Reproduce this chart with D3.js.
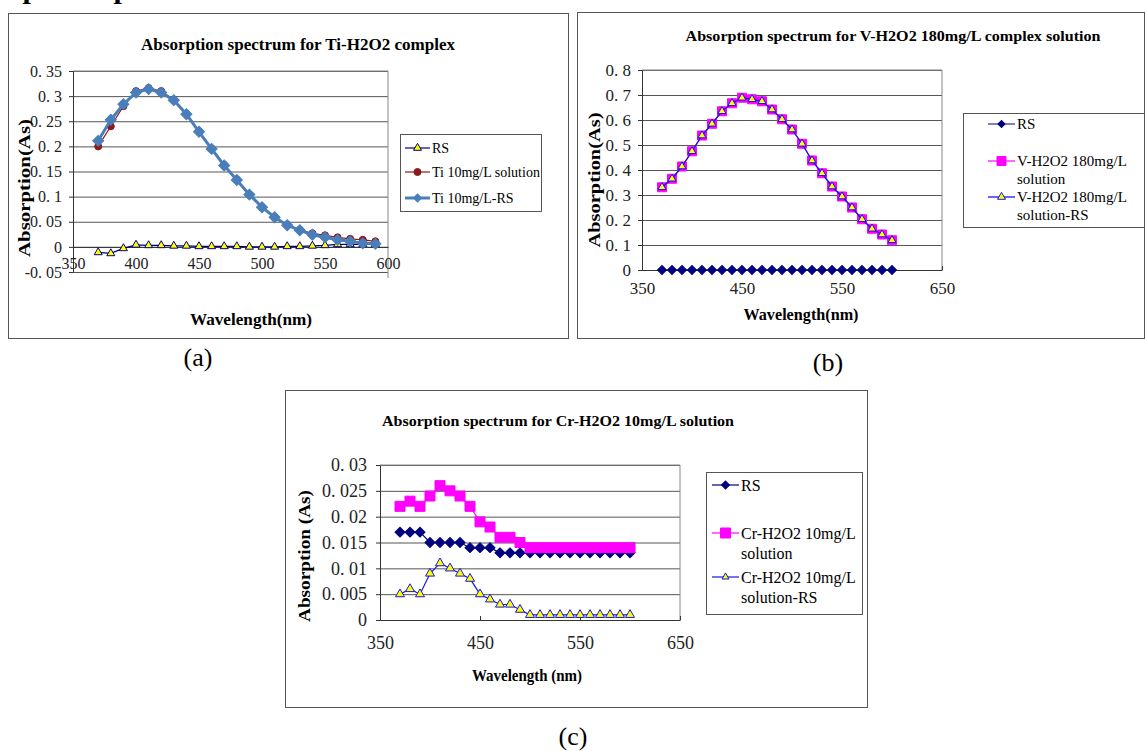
<!DOCTYPE html>
<meta charset="utf-8">
<style>
body { margin: 0; background: #fff; }
svg { display: block; font-family: "Liberation Serif", "Times New Roman", serif; }
.frame { fill: none; stroke: #555; stroke-width: 1px; }
.legend-box { fill: #fff; stroke: #555; stroke-width: 1px; }
.grid line { stroke: #555; stroke-width: 1px; }
.grid path { display: none; }
.axis path, .axis line { stroke: #333; }
.axis text { fill: #222; font-family: "Liberation Serif", "Times New Roman", serif; }
.ttl { font-weight: bold; fill: #000; }
</style>
<svg width="1145" height="751"></svg>
<script src="https://d3js.org/d3.v7.min.js"></script>
<script>

// wavelengths (nm)
var waveA = [370, 380, 390, 400, 410, 420, 430, 440, 450, 460, 470, 480, 490, 500, 510, 520, 530, 540, 550, 560, 570, 580, 590];
var waveBC = [370, 380, 390, 400, 410, 420, 430, 440, 450, 460, 470, 480, 490, 500, 510, 520, 530, 540, 550, 560, 570, 580, 590, 600];

// (a) Ti-H2O2
var rsA = [-0.011, -0.013, -0.003, 0.004, 0.003, 0.003, 0.002, 0.002, 0.001, 0.001, 0.001, 0.001, 0, 0, 0, 0.001, 0.001, 0.002, 0.003, 0.005, 0.005, 0.005, 0.005];
var tiSol = [0.200, 0.240, 0.280, 0.310, 0.316, 0.310, 0.293, 0.265, 0.230, 0.196, 0.163, 0.134, 0.104, 0.079, 0.059, 0.044, 0.034, 0.027, 0.023, 0.019, 0.016, 0.014, 0.011];
var tiSolRS = [0.211, 0.253, 0.284, 0.307, 0.314, 0.307, 0.292, 0.264, 0.229, 0.195, 0.162, 0.133, 0.104, 0.079, 0.059, 0.043, 0.033, 0.024, 0.019, 0.014, 0.011, 0.007, 0.006];

// (b) V-H2O2 180mg/L
var rsB = [0, 0, 0, 0, 0, 0, 0, 0, 0, 0, 0, 0, 0, 0, 0, 0, 0, 0, 0, 0, 0, 0, 0, 0];
var vSol = [0.331, 0.365, 0.414, 0.475, 0.538, 0.585, 0.635, 0.667, 0.689, 0.683, 0.675, 0.642, 0.603, 0.562, 0.505, 0.438, 0.387, 0.334, 0.294, 0.250, 0.203, 0.165, 0.142, 0.119];
var vSolRS = [0.331, 0.365, 0.414, 0.475, 0.538, 0.585, 0.635, 0.667, 0.689, 0.683, 0.675, 0.642, 0.603, 0.562, 0.505, 0.438, 0.387, 0.334, 0.294, 0.250, 0.203, 0.165, 0.142, 0.119];

// (c) Cr-H2O2 10mg/L
var rsC = [0.017, 0.017, 0.017, 0.015, 0.015, 0.015, 0.015, 0.014, 0.014, 0.014, 0.013, 0.013, 0.013, 0.013, 0.013, 0.013, 0.013, 0.013, 0.013, 0.013, 0.013, 0.013, 0.013, 0.013];
var crSol = [0.022, 0.023, 0.022, 0.024, 0.026, 0.025, 0.024, 0.022, 0.019, 0.018, 0.016, 0.016, 0.015, 0.014, 0.014, 0.014, 0.014, 0.014, 0.014, 0.014, 0.014, 0.014, 0.014, 0.014];
var crSolRS = [0.005, 0.006, 0.005, 0.009, 0.011, 0.010, 0.009, 0.008, 0.005, 0.004, 0.003, 0.003, 0.002, 0.001, 0.001, 0.001, 0.001, 0.001, 0.001, 0.001, 0.001, 0.001, 0.001, 0.001];

// ticks
var xTicksA = [350, 400, 450, 500, 550, 600];
var yTicksA = [-0.05, 0, 0.05, 0.1, 0.15, 0.2, 0.25, 0.3, 0.35];
var xTicksBC = [350, 450, 550, 650];
var yTicksB = [0, 0.1, 0.2, 0.3, 0.4, 0.5, 0.6, 0.7, 0.8];
var yTicksC = [0, 0.005, 0.01, 0.015, 0.02, 0.025, 0.03];

var svg = d3.select("svg");

// tick labels look like "0. 35"
function yFmt(d) {
  if (d === 0) return "0";
  return String(+d.toFixed(3)).replace(".", ". ");
}

function symbolPath(type, s) {
  if (type === "diamond") return d3.symbol(d3.symbolSquare, s * s / 2)();
  if (type === "square") return d3.symbol(d3.symbolSquare, s * s)();
  if (type === "triangle") return d3.symbol(d3.symbolTriangle, s * s * Math.sqrt(3) / 4)();
  return d3.symbol(d3.symbolCircle, Math.PI * s * s / 4)();
}

function addText(g, t) {
  var el = g.append("text")
      .attr("class", t.cls || null)
      .attr("text-anchor", t.anchor || "middle")
      .attr("dy", "0.35em")
      .style("font-size", t.size + "px")
      .text(t.text);
  if (t.rotate) el.attr("transform", "translate(" + t.x + "," + t.y + ") rotate(-90)");
  else el.attr("x", t.x).attr("y", t.y);
  if (t.len) el.attr("textLength", t.len).attr("lengthAdjust", "spacingAndGlyphs");
  return el;
}

function drawPanel(p) {
  var g = svg.append("g");
  g.append("rect").attr("class", "frame")
      .attr("x", p.frame[0] + 0.5).attr("y", p.frame[1] + 0.5)
      .attr("width", p.frame[2]).attr("height", p.frame[3]);

  var x = d3.scaleLinear().domain(p.xDomain).range([p.left, p.right]),
      y = d3.scaleLinear().domain(p.yDomain).range([p.bottom, p.top]);
  var w = p.right - p.left;

  // gridlines
  g.append("g")
      .attr("class", "grid")
      .attr("transform", "translate(" + p.left + ",0)")
      .call(d3.axisLeft(y).tickValues(p.yTicks).tickSize(-w).tickFormat(""));

  // plot area top / right edges
  g.append("line").attr("x1", p.left).attr("x2", p.right).attr("y1", p.top).attr("y2", p.top)
      .attr("stroke", "#888");
  g.append("line").attr("x1", p.right).attr("x2", p.right).attr("y1", p.top).attr("y2", p.bottom + p.rightExtra)
      .attr("stroke", "#888");

  // y axis
  var ya = g.append("g")
      .attr("class", "axis")
      .attr("transform", "translate(" + p.left + ",0)")
      .call(d3.axisLeft(y).tickValues(p.yTicks).tickSizeInner(4).tickSizeOuter(0).tickPadding(p.yPad).tickFormat(yFmt))
      .attr("font-family", null);
  ya.selectAll("text").style("font-size", p.tickSize + "px");

  // x axis crosses at 0
  var xa = g.append("g")
      .attr("class", "axis")
      .attr("transform", "translate(0," + y(0) + ")")
      .call(d3.axisBottom(x).tickValues(p.xTicks).tickSizeInner(p.xTickLen).tickSizeOuter(0).tickPadding(p.xPad).tickFormat(d3.format("d")))
      .attr("font-family", null);
  xa.selectAll("text").style("font-size", p.tickSize + "px").attr("y", p.xPad);

  // series
  var line = d3.line()
      .x(function(d) { return x(d[0]); })
      .y(function(d) { return y(d[1]); });

  p.series.forEach(function(s) {
    var pts = s.values.map(function(v, i) { return [s.wave[i], v]; });
    g.append("path")
        .datum(pts)
        .attr("fill", "none")
        .attr("stroke", s.color)
        .attr("stroke-width", s.width)
        .attr("d", line);
    var sym = symbolPath(s.marker, s.size);
    g.append("g").selectAll("path")
        .data(pts)
        .enter().append("path")
        .attr("d", sym)
        .attr("fill", s.fill)
        .attr("stroke", s.stroke)
        .attr("stroke-width", s.strokeWidth)
        .attr("transform", function(d) {
          return "translate(" + x(d[0]) + "," + y(d[1]) + ")" + (s.marker === "diamond" ? " rotate(45)" : "");
        });
  });

  // titles
  addText(g, {text: p.title.text, x: p.title.x, y: p.title.y, size: p.title.size, len: p.title.len, cls: "ttl"});
  addText(g, {text: p.xTitle.text, x: p.xTitle.x, y: p.xTitle.y, size: p.xTitle.size, len: p.xTitle.len, cls: "ttl"});
  addText(g, {text: p.yTitle.text, x: p.yTitle.x, y: p.yTitle.y, size: p.yTitle.size, len: p.yTitle.len, cls: "ttl", rotate: true});

  // legend
  var L = p.legend;
  g.append("rect").attr("class", "legend-box")
      .attr("x", L.box[0] + 0.5).attr("y", L.box[1] + 0.5)
      .attr("width", L.box[2]).attr("height", L.box[3]);
  p.series.forEach(function(s, i) {
    var ly = L.rows[i];
    g.append("line")
        .attr("x1", L.line[0]).attr("x2", L.line[1]).attr("y1", ly).attr("y2", ly)
        .attr("stroke", s.color).attr("stroke-width", s.width);
    g.append("path")
        .attr("d", symbolPath(s.marker, s.legendSize || s.size))
        .attr("fill", s.fill).attr("stroke", s.stroke).attr("stroke-width", s.strokeWidth)
        .attr("transform", "translate(" + (L.line[0] + L.line[1]) / 2 + "," + ly + ")" + (s.marker === "diamond" ? " rotate(45)" : ""));
    s.label.forEach(function(t, j) {
      addText(g, {text: t, x: L.textX, y: ly + j * L.lineH, size: L.size, anchor: "start"});
    });
  });
}

var navy = "#000080", magenta = "#FF00FF", yellow = "#FFFF00", blue = "#1515E6";

drawPanel({
  frame: [8, 13, 560, 325],
  left: 73, right: 388, top: 71, bottom: 272, rightExtra: 6,
  xDomain: [350, 600], yDomain: [-0.05, 0.35],
  xTicks: xTicksA, yTicks: yTicksA,
  tickSize: 16, yPad: 7, xPad: 11, xTickLen: 0,
  title: {text: "Absorption spectrum for Ti-H2O2 complex", x: 298, y: 44, size: 16, len: 314},
  xTitle: {text: "Wavelength(nm)", x: 251, y: 319, size: 17, len: 122},
  yTitle: {text: "Absorption(As)", x: 24, y: 188, size: 17, len: 138},
  series: [
    {label: ["RS"], wave: waveA, values: rsA, color: navy, width: 1.2, marker: "triangle", size: 8, fill: yellow, stroke: navy, strokeWidth: 1},
    {label: ["Ti 10mg/L solution"], wave: waveA, values: tiSol, color: "#8B1A1A", width: 1.2, marker: "circle", size: 7, fill: "#8B1A1A", stroke: "#8B1A1A", strokeWidth: 1},
    {label: ["Ti  10mg/L-RS"], wave: waveA, values: tiSolRS, color: "#4A7EBB", width: 3, marker: "diamond", size: 11, legendSize: 8, fill: "#4A7EBB", stroke: "#4A7EBB", strokeWidth: 1}
  ],
  legend: {box: [400, 134, 141, 77], line: [405, 430], textX: 432, size: 14, lineH: 16, rows: [148, 172, 198]}
});

drawPanel({
  frame: [577, 12, 567, 326],
  left: 642, right: 942, top: 70, bottom: 270, rightExtra: 0,
  xDomain: [350, 650], yDomain: [0, 0.8],
  xTicks: xTicksBC, yTicks: yTicksB,
  tickSize: 17, yPad: 7, xPad: 12, xTickLen: -4,
  title: {text: "Absorption spectrum for V-H2O2 180mg/L complex solution", x: 893, y: 36, size: 15, len: 415},
  xTitle: {text: "Wavelength(nm)", x: 801, y: 314, size: 17, len: 115},
  yTitle: {text: "Absorption(As)", x: 594, y: 180, size: 17, len: 135},
  series: [
    {label: ["RS"], wave: waveBC, values: rsB, color: navy, width: 1, marker: "diamond", size: 9, legendSize: 7, fill: navy, stroke: navy, strokeWidth: 1},
    {label: ["V-H2O2 180mg/L", "solution"], wave: waveBC, values: vSol, color: magenta, width: 1.2, marker: "square", size: 9, fill: magenta, stroke: magenta, strokeWidth: 1},
    {label: ["V-H2O2 180mg/L", "solution-RS"], wave: waveBC, values: vSolRS, color: blue, width: 1.3, marker: "triangle", size: 8, fill: yellow, stroke: blue, strokeWidth: 1}
  ],
  legend: {box: [963, 113, 181, 114], line: [988, 1015], textX: 1017, size: 15, lineH: 18, rows: [124, 161, 197]}
});

drawPanel({
  frame: [285, 390, 582, 317],
  left: 380, right: 680, top: 465, bottom: 620, rightExtra: 0,
  xDomain: [350, 650], yDomain: [0, 0.03],
  xTicks: xTicksBC, yTicks: yTicksC,
  tickSize: 18, yPad: 9, xPad: 16, xTickLen: -4,
  title: {text: "Absorption spectrum for Cr-H2O2 10mg/L solution", x: 558, y: 421, size: 15, len: 352},
  xTitle: {text: "Wavelength (nm)", x: 527, y: 675, size: 16, len: 110},
  yTitle: {text: "Absorption (As)", x: 304, y: 556, size: 16, len: 132},
  series: [
    {label: ["RS"], wave: waveBC, values: rsC, color: navy, width: 1.2, marker: "diamond", size: 10, legendSize: 8, fill: navy, stroke: navy, strokeWidth: 1},
    {label: ["Cr-H2O2 10mg/L", "solution"], wave: waveBC, values: crSol, color: magenta, width: 1.2, marker: "square", size: 10, fill: magenta, stroke: magenta, strokeWidth: 1},
    {label: ["Cr-H2O2 10mg/L", "solution-RS"], wave: waveBC, values: crSolRS, color: blue, width: 1.2, marker: "triangle", size: 9, legendSize: 7, fill: yellow, stroke: blue, strokeWidth: 1}
  ],
  legend: {box: [706, 472, 156, 142], line: [712, 739], textX: 741, size: 16, lineH: 20, rows: [485, 533, 577]}
});

// sub-figure captions and clipped section heading
svg.append("text").attr("x", 198).attr("y", 357).attr("dy", "0.35em").attr("text-anchor", "middle")
    .style("font-size", "26px").text("(a)");
svg.append("text").attr("x", 828).attr("y", 362).attr("dy", "0.35em").attr("text-anchor", "middle")
    .style("font-size", "26px").text("(b)");
svg.append("text").attr("x", 573).attr("y", 736).attr("dy", "0.35em").attr("text-anchor", "middle")
    .style("font-size", "26px").text("(c)");
svg.append("text").attr("x", 195).attr("y", -2).attr("text-anchor", "end")
    .style("font-size", "30px").style("font-weight", "bold").text("Absorption Spectra");

</script>
